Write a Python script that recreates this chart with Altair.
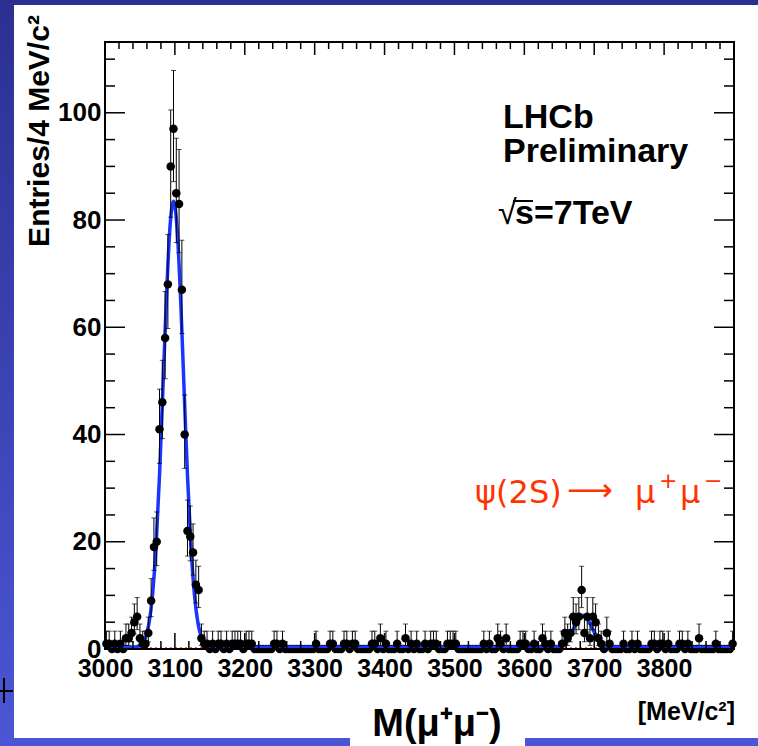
import math
import altair as alt
import pandas as pd

# ---------------- data ----------------
bin_start = 3000          # MeV/c^2, left edge of first bin
bin_width = 4             # MeV/c^2
counts = [
    1, 1, 0, 1, 0, 1, 0, 2, 2, 3,          # 3002-3038
    5, 6, 2, 1, 1, 3, 9, 19, 20, 41,       # 3042-3078
    46, 58, 68, 90, 97, 85, 83, 67, 40, 22,  # 3082-3118
    21, 18, 12, 11, 2, 1, 1, 0, 1, 0,      # 3122-3158
    1, 1, 0, 1, 0, 1, 1, 1, 1, 0,          # 3162-3198
    1, 1, 1, 0, 0, 0, 0, 0, 0, 0,          # 3202-3238
    1, 1, 0, 1, 0, 0, 0, 0, 0, 0,          # 3242-3278
    0, 0, 0, 0, 0, 1, 0, 0, 0, 0,          # 3282-3318
    1, 1, 0, 0, 0, 1, 1, 0, 1, 1,          # 3322-3358
    0, 0, 0, 0, 0, 1, 1, 0, 2, 0,          # 3362-3398
    1, 0, 0, 0, 1, 0, 0, 2, 0, 1,          # 3402-3438
    0, 1, 0, 0, 1, 0, 1, 1, 1, 0,          # 3442-3478
    0, 0, 1, 1, 1, 1, 0, 0, 0, 0,          # 3482-3518
    0, 0, 0, 0, 0, 1, 0, 1, 0, 0,          # 3522-3558
    2, 1, 0, 2, 0, 0, 0, 0, 1, 1,          # 3562-3598
    1, 0, 0, 1, 0, 0, 2, 1, 0, 1,          # 3602-3638
    0, 0, 0, 1, 3, 2, 3, 6, 5, 6,          # 3642-3678
    11, 3, 6, 2, 6, 5, 2, 1, 0, 3,         # 3682-3718
    1, 0, 0, 0, 0, 1, 0, 0, 1, 0,          # 3722-3758
    1, 0, 0, 0, 0, 1, 1, 0, 1, 1,          # 3762-3798
    0, 1, 0, 0, 0, 1, 1, 0, 1, 0,          # 3802-3838
    0, 0, 2, 0, 0, 0, 0, 0, 1, 0,          # 3842-3878
    0, 0, 0, 0, 1,                         # 3882-3898
]

# fitted curve (signal + background)
fit_mass = [3000, 3038, 3048, 3053, 3058, 3063, 3068, 3073, 3078, 3083, 3088, 3093,
            3098, 3103, 3108, 3113, 3118, 3123, 3128, 3133, 3138, 3143, 3148, 3158,
            3644, 3649, 3654, 3659, 3664, 3669, 3674, 3679, 3684, 3689, 3694, 3699,
            3704, 3709, 3714, 3719, 3724, 3900]
fit_value = [0.3, 0.32, 0.52, 0.97, 2.16, 4.82, 10.1, 19.1, 32.4, 49.0, 65.9, 78.7,
             83.5, 78.7, 65.9, 49.0, 32.4, 19.1, 10.1, 4.82, 2.16, 0.97, 0.52, 0.32,
             0.35, 0.46, 0.72, 1.24, 2.14, 3.38, 4.76, 5.87, 6.3, 5.87, 4.76, 3.38,
             2.14, 1.24, 0.72, 0.46, 0.35, 0.3]

bkg_mass = [3000, 3900]
bkg_value = [0.2, 0.2]

x_label_values = [3000, 3100, 3200, 3300, 3400, 3500, 3600, 3700, 3800]
x_major_ticks = [3100, 3200, 3300, 3400, 3500, 3600, 3700, 3800]
x_minor_ticks = [v for v in range(3020, 3900, 20) if v % 100 != 0]
y_label_values = [0, 20, 40, 60, 80, 100]
y_major_ticks = [20, 40, 60, 80, 100]
y_minor_ticks = [v for v in range(5, 113, 5) if v % 20 != 0]

# ---------------- tables ----------------
mass = [bin_start + bin_width / 2 + bin_width * k for k in range(len(counts))]
rows = []
for m, n in zip(mass, counts):
    if n > 0:
        lo = n - math.sqrt(n - 0.25)
        hi = n + math.sqrt(n + 0.75) + 1
    else:
        lo, hi = 0.0, 0.0
    rows.append({"m": m, "v": n, "lo": lo, "hi": hi})
pts = pd.DataFrame(rows)
pts_nz = pts[pts.v > 0]
pts_z = pts[pts.v == 0]
fit_df = pd.DataFrame({"m": fit_mass, "v": fit_value})
bkg_df = pd.DataFrame({"m": bkg_mass, "v": bkg_value})

W, H = 629, 607
XMIN, XMAX = 3000, 3900
YMAX = 113.2
FONT = "Liberation Sans"

xs = alt.Scale(domain=[XMIN, XMAX], nice=False, zero=False)
ys = alt.Scale(domain=[0, YMAX], nice=False, zero=True)
xaxis = alt.Axis(values=x_label_values, format="d", labelFontSize=25, labelFont=FONT,
                 labelFontWeight="bold", labelColor="black", ticks=False, domain=False,
                 grid=False, labelPadding=7, title=None, zindex=1, labelFlush=False,
                 labelOverlap=False)
yaxis = alt.Axis(values=y_label_values, format="d", labelFontSize=26, labelFont=FONT,
                 labelFontWeight="bold", labelColor="black", ticks=False, domain=False,
                 grid=False, labelPadding=4, title=None, zindex=1, labelOverlap=False)

X = lambda f: alt.X(f, type="quantitative", scale=xs, axis=xaxis)
Y = lambda f: alt.Y(f, type="quantitative", scale=ys, axis=yaxis)

one = pd.DataFrame({"a": [0]})

# ---------------- decoration (slide background) ----------------
bg = alt.Chart(one).mark_rect(
    fill=alt.Gradient(gradient="linear", x1=0, x2=0, y1=0, y2=1,
                      stops=[alt.GradientStop(color="#2B3090", offset=0),
                             alt.GradientStop(color="#4B56D4", offset=1)])
).encode(x=alt.value(-105), x2=alt.value(653), y=alt.value(-42), y2=alt.value(704))

panel = alt.Chart(one).mark_rect(fill="white").encode(
    x=alt.value(-91), x2=alt.value(653), y=alt.value(-37), y2=alt.value(696))
tab = alt.Chart(one).mark_rect(fill="white").encode(
    x=alt.value(245), x2=alt.value(420), y=alt.value(690), y2=alt.value(704))
cross_h = alt.Chart(one).mark_rule(color="black", strokeWidth=2).encode(
    x=alt.value(-105), x2=alt.value(-92), y=alt.value(649))
cross_v = alt.Chart(one).mark_rule(color="black", strokeWidth=2).encode(
    x=alt.value(-101), y=alt.value(636), y2=alt.value(661))

# ---------------- data layers ----------------
bkg_line = alt.Chart(bkg_df).mark_line(color="#ff2a00", strokeWidth=1.5,
                                       strokeDash=[2, 3]).encode(x=X("m"), y=Y("v"))
zero_dots = alt.Chart(pts_z).mark_circle(size=72, color="black", opacity=1).encode(
    x=X("m"), y=Y("v"))
fit_line = alt.Chart(fit_df).mark_line(color="#1a35ff", strokeWidth=3.5,
                                       interpolate="monotone").encode(x=X("m"), y=Y("v"))
err = alt.Chart(pts_nz).mark_rule(color="black", strokeWidth=1).encode(
    x=X("m"), y=Y("lo"), y2="hi:Q")
cap_hi = alt.Chart(pts_nz).mark_tick(orient="horizontal", size=5, thickness=1,
                                     color="black").encode(x=X("m"), y=Y("hi"))
cap_lo = alt.Chart(pts_nz).mark_tick(orient="horizontal", size=5, thickness=1,
                                     color="black").encode(x=X("m"), y=Y("lo"))
dots = alt.Chart(pts_nz).mark_circle(size=72, color="black", opacity=1).encode(
    x=X("m"), y=Y("v"))

# ---------------- frame & inner ticks ----------------
def xticks(vals, length, top):
    d = pd.DataFrame({"m": vals})
    if top:
        return alt.Chart(d).mark_rule(color="black", strokeWidth=1.5).encode(
            x=X("m"), y=alt.value(0), y2=alt.value(length))
    return alt.Chart(d).mark_rule(color="black", strokeWidth=1.5).encode(
        x=X("m"), y=alt.value(H), y2=alt.value(H - length))


def yticks(vals, length, right):
    d = pd.DataFrame({"v": vals})
    if right:
        return alt.Chart(d).mark_rule(color="black", strokeWidth=1.5).encode(
            y=Y("v"), x=alt.value(W), x2=alt.value(W - length))
    return alt.Chart(d).mark_rule(color="black", strokeWidth=1.5).encode(
        y=Y("v"), x=alt.value(0), x2=alt.value(length))


tick_layers = [
    xticks(x_major_ticks, 16, False), xticks(x_minor_ticks, 8, False),
    xticks(x_major_ticks, 13, True), xticks(x_minor_ticks, 7, True),
    yticks(y_major_ticks, 20, False), yticks(y_minor_ticks, 10, False),
    yticks(y_major_ticks, 20, True), yticks(y_minor_ticks, 10, True),
]

frame = alt.Chart(one).mark_rect(fillOpacity=0, stroke="black", strokeWidth=2).encode(
    x=alt.value(0), x2=alt.value(W), y=alt.value(0), y2=alt.value(H))

# ---------------- texts ----------------
def txt(s, x, y, size, weight="bold", align="left", color="black", angle=0, font=FONT,
        baseline="alphabetic"):
    return alt.Chart(one).mark_text(text=s, font=font, fontSize=size, fontWeight=weight,
                                    align=align, color=color, angle=angle,
                                    baseline=baseline).encode(
        x=alt.value(x), y=alt.value(y))


RED = "#ff3300"
DJ = "DejaVu Sans"
texts = [
    txt("LHCb", 398, 86, 34),
    txt("Preliminary", 398, 120, 34),
    txt("√", 393, 182, 34, weight="normal"),
    txt("s=7TeV", 410, 182, 34),
    txt("ψ(2S)", 370, 461, 32, weight="normal", color=RED, font=DJ),
    txt("⟶", 462, 459, 32, weight="normal", color=RED, font=DJ),
    txt("μ", 530, 461, 32, weight="normal", color=RED, font=DJ),
    txt("+", 554, 446, 22, weight="normal", color=RED, font=DJ),
    txt("μ", 575, 461, 32, weight="normal", color=RED, font=DJ),
    txt("−", 599, 446, 22, weight="normal", color=RED, font=DJ),
    txt("[MeV/c²]", 630, 678, 25, align="right"),
    txt("M(μ⁺μ⁻)", 332, 694, 38, align="center"),
    txt("Entries/4 MeV/c²", -65, 89, 30, align="center", angle=270, baseline="middle"),
]
overline = alt.Chart(one).mark_rule(color="black", strokeWidth=2).encode(
    x=alt.value(408), x2=alt.value(428), y=alt.value(159))

chart = alt.layer(
    bg, panel, tab, cross_h, cross_v,
    bkg_line, zero_dots, fit_line, err, cap_hi, cap_lo, dots,
    *tick_layers, frame, *texts, overline,
).properties(
    width=W, height=H,
    autosize=alt.AutoSizeParams(type="none"),
    padding={"left": 105, "top": 42, "right": 24, "bottom": 97},
    background="#3a3fb0",
).configure_view(stroke="transparent")

chart.save("out.html", embed_options={"renderer": "svg", "actions": False})
